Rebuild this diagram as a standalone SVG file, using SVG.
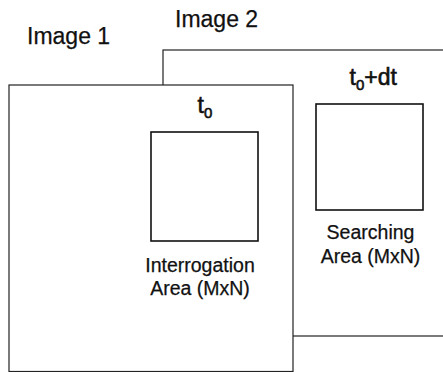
<svg xmlns="http://www.w3.org/2000/svg" width="443" height="372" viewBox="0 0 443 372">
<style>
.frame{fill:#fff;stroke:#222;stroke-width:1.2}
.area{fill:#fff;stroke:#111;stroke-width:1.6}
.lbl{font-family:"Liberation Sans",Arial,sans-serif;fill:#111;stroke:#111;stroke-width:0.25}
.title{font-size:23px}
.cap{font-size:19.5px;text-anchor:middle}
.time{font-size:23px;stroke-width:0.6}
.sub{font-size:15px}
</style>
<rect width="443" height="372" fill="#fff"/>
<g id="image2">
<rect class="frame" x="163" y="50" width="300" height="286"/>
<text class="lbl title" x="175" y="27">Image 2</text>
</g>
<g id="image1">
<rect class="frame" x="9" y="85" width="284" height="286.5"/>
<text class="lbl title" x="27" y="44">Image 1</text>
</g>
<g id="interrogation">
<rect class="area" x="151" y="132" width="107" height="109"/>
<text class="lbl time" x="197.5" y="113">t<tspan class="sub" dy="5">0</tspan></text>
<text class="lbl cap" x="200" y="272">Interrogation</text>
<text class="lbl cap" x="200" y="295">Area (MxN)</text>
</g>
<g id="searching">
<rect class="area" x="316" y="104" width="107" height="106"/>
<text class="lbl time" x="349.5" y="85">t<tspan class="sub" dy="5">0</tspan><tspan dy="-5">+dt</tspan></text>
<text class="lbl cap" x="370.5" y="239">Searching</text>
<text class="lbl cap" x="370.5" y="263">Area (MxN)</text>
</g>
<g id="connectors"></g>
</svg>
